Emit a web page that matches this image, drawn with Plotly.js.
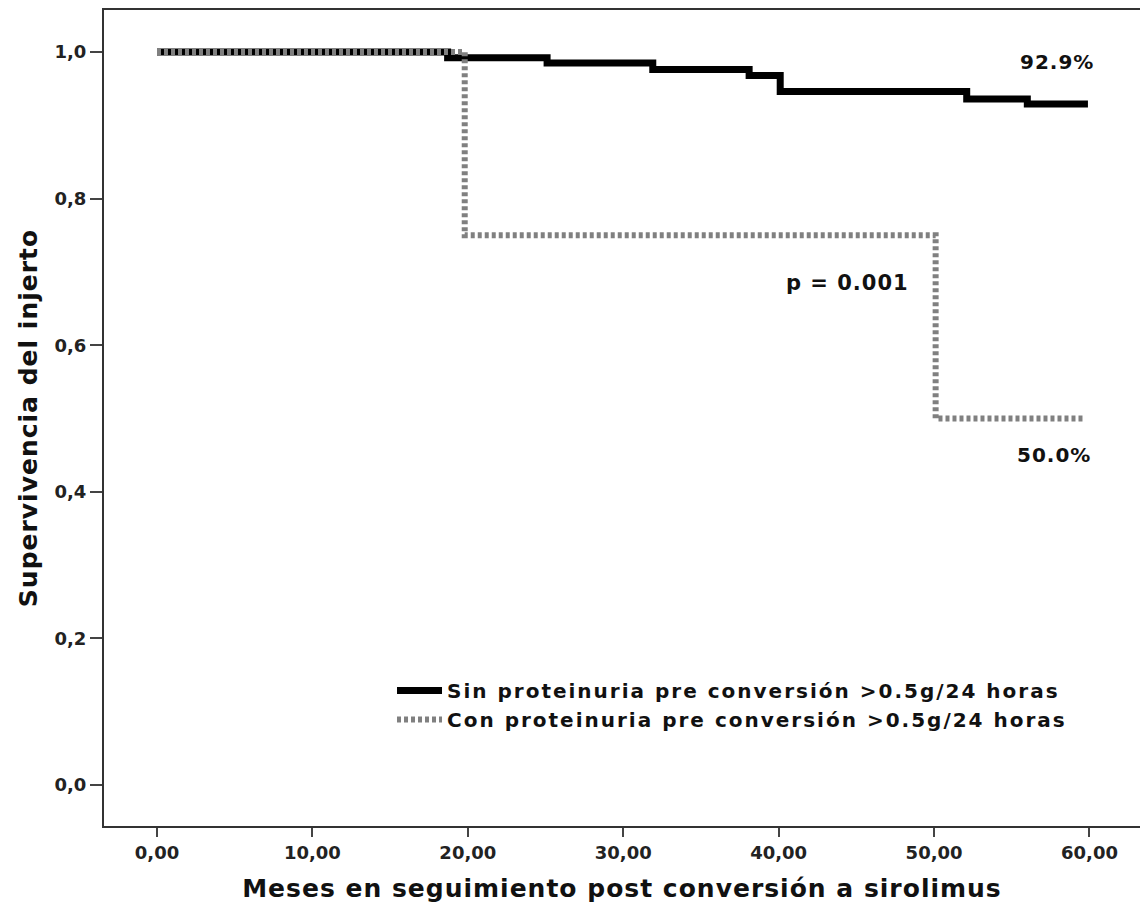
<!DOCTYPE html>
<html>
<head>
<meta charset="utf-8">
<script src="https://cdn.plot.ly/plotly-3.0.1.min.js"></script>
<style>
html,body{margin:0;padding:0;background:#fff;}
#chart{width:1140px;height:913px;}
.legendtext{letter-spacing:2px;}
.xtitle,.ytitle{letter-spacing:1px;}
.annotation-text{letter-spacing:1px;}
</style>
</head>
<body>
<div id="chart"></div>
<script>
// Kaplan-Meier step data (months, survival)
const sinX = [0, 18.7, 25.1, 31.9, 38.1, 40.1, 52.1, 56.0, 59.9];
const sinY = [1.0, 0.992, 0.985, 0.976, 0.968, 0.946, 0.936, 0.929, 0.929];
const conX = [0, 19.8, 50.1, 59.7];
const conY = [1.0, 0.75, 0.5, 0.5];
const seriesNames = [
  "Sin proteinuria pre conversión >0.5g/24 horas",
  "Con proteinuria pre conversión >0.5g/24 horas"
];
const xTickVals = [0, 10, 20, 30, 40, 50, 60];
const xTickText = ["0,00", "10,00", "20,00", "30,00", "40,00", "50,00", "60,00"];
const yTickVals = [0, 0.2, 0.4, 0.6, 0.8, 1.0];
const yTickText = ["0,0", "0,2", "0,4", "0,6", "0,8", "1,0"];

const FONT = "DejaVu Sans, Verdana, sans-serif";

const traces = [
  {x: sinX, y: sinY, name: seriesNames[0], mode: "lines",
   line: {shape: "hv", color: "#000000", width: 7}},
  {x: conX, y: conY, name: seriesNames[1], mode: "lines",
   line: {shape: "hv", color: "#808080", width: 6, dash: "4px,3px"}}
];

const layout = {
  width: 1140, height: 913,
  margin: {l: 104, r: 0, t: 10, b: 87},
  paper_bgcolor: "#ffffff", plot_bgcolor: "#ffffff",
  showlegend: true,
  legend: {x: 0.278, y: 0.190, xanchor: "left", yanchor: "top",
           itemwidth: 45,
           bgcolor: "rgba(0,0,0,0)", borderwidth: 0, tracegroupgap: 0,
           font: {family: FONT, size: 20, color: "#111", weight: "bold"}},
  xaxis: {range: [-3.41, 63.25], tickvals: xTickVals, ticktext: xTickText,
          ticks: "outside", ticklen: 9, tickwidth: 2, tickcolor: "#444",
          showline: true, linecolor: "#333", linewidth: 2, mirror: true,
          showgrid: false, zeroline: false,
          tickfont: {family: FONT, size: 18, color: "#222", weight: "bold"},
          title: {text: "Meses en seguimiento post conversión a sirolimus",
                  font: {family: FONT, size: 25, color: "#111", weight: "bold"}, standoff: 18}},
  yaxis: {range: [-0.0559, 1.0573], tickvals: yTickVals, ticktext: yTickText,
          ticks: "outside", ticklen: 12, tickwidth: 2, tickcolor: "#444",
          showline: true, linecolor: "#333", linewidth: 2, mirror: true,
          showgrid: false, zeroline: false,
          tickfont: {family: FONT, size: 18, color: "#222", weight: "bold"},
          title: {text: "Supervivencia del injerto",
                  font: {family: FONT, size: 25, color: "#111", weight: "bold"}, standoff: 10}},
  annotations: [
    {x: 57.9, y: 0.986, xref: "x", yref: "y", text: "92.9%", showarrow: false,
     font: {family: FONT, size: 20, color: "#111", weight: "bold"}},
    {x: 44.4, y: 0.685, xref: "x", yref: "y", text: "p = 0.001", showarrow: false,
     font: {family: FONT, size: 21, color: "#111", weight: "bold"}},
    {x: 57.7, y: 0.450, xref: "x", yref: "y", text: "50.0%", showarrow: false,
     font: {family: FONT, size: 20, color: "#111", weight: "bold"}}
  ]
};

Plotly.newPlot("chart", traces, layout, {displayModeBar: false, staticPlot: true});
</script>
</body>
</html>
